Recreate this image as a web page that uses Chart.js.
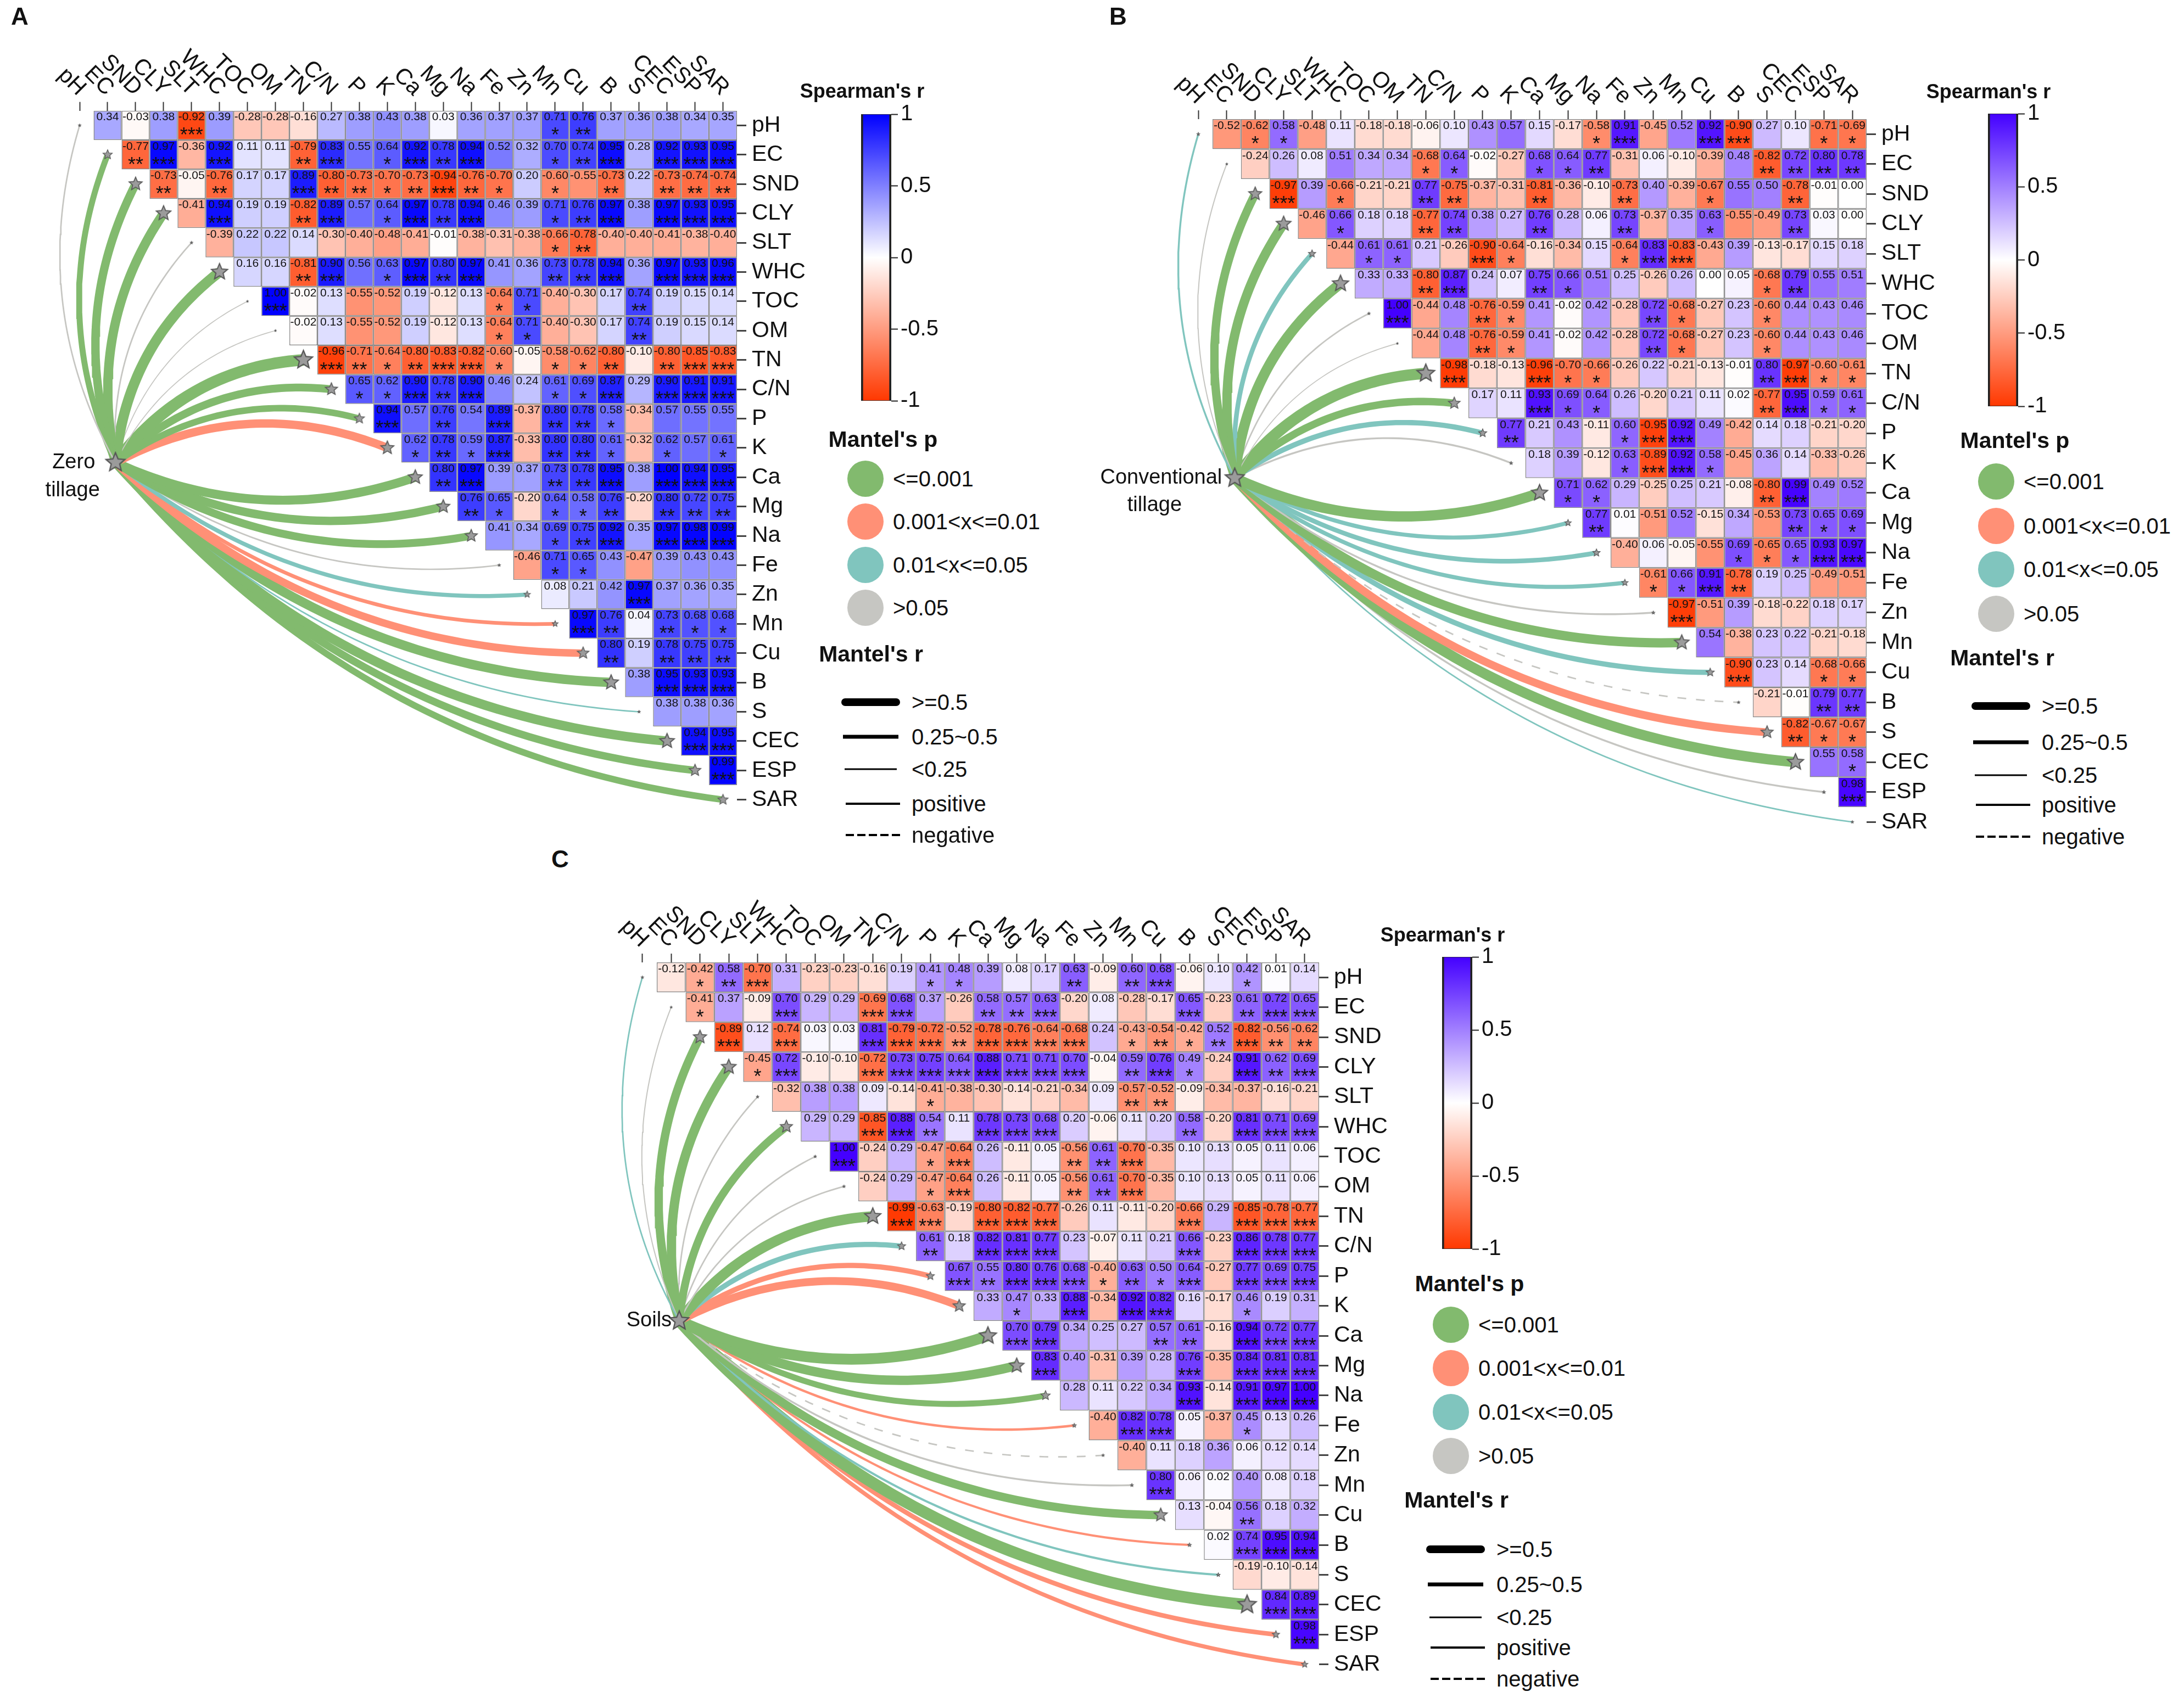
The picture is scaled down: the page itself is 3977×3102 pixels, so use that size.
<!DOCTYPE html>
<html>
<head>
<meta charset="utf-8">
<script src="https://cdn.jsdelivr.net/npm/chart.js@4"></script>
<style>
html, body { margin: 0; padding: 0; background: #fff; }
#page { position: relative; width: 3977px; height: 3102px; overflow: hidden; font-family: "Liberation Sans", Arial, sans-serif; color: #111; }
canvas { position: absolute; }
.txt { position: absolute; white-space: nowrap; line-height: 1; transform: translateY(-50%); }
.mid { transform: translate(-50%, -50%); }
.dot { position: absolute; width: 66px; height: 66px; border-radius: 50%; transform: translate(-50%, -50%); }
.bar { position: absolute; transform: translateY(-50%); background: #000; }
</style>
</head>
<body>
<div id="page"></div>
<script>
const variables = ['pH', 'EC', 'SND', 'CLY', 'SLT', 'WHC', 'TOC', 'OM', 'TN', 'C/N', 'P', 'K', 'Ca', 'Mg', 'Na', 'Fe', 'Zn', 'Mn', 'Cu', 'B', 'S', 'CEC', 'ESP', 'SAR'];
const pLabels = ['<=0.001', '0.001<x<=0.01', '0.01<x<=0.05', '>0.05'];
const rLabels = ['>=0.5', '0.25~0.5', '<0.25', 'positive', 'negative'];

// Zero tillage
const zeroValues = [
    [0.34, -0.03, 0.38, -0.92, 0.39, -0.28, -0.28, -0.16, 0.27, 0.38, 0.43, 0.38, 0.03, 0.36, 0.37, 0.37, 0.71, 0.76, 0.37, 0.36, 0.38, 0.34, 0.35],
    [-0.77, 0.97, -0.36, 0.92, 0.11, 0.11, -0.79, 0.83, 0.55, 0.64, 0.92, 0.78, 0.94, 0.52, 0.32, 0.70, 0.74, 0.95, 0.28, 0.92, 0.93, 0.95],
    [-0.73, -0.05, -0.76, 0.17, 0.17, 0.89, -0.80, -0.73, -0.70, -0.73, -0.94, -0.76, -0.70, 0.20, -0.60, -0.55, -0.73, 0.22, -0.73, -0.74, -0.74],
    [-0.41, 0.94, 0.19, 0.19, -0.82, 0.89, 0.57, 0.64, 0.97, 0.78, 0.94, 0.46, 0.39, 0.71, 0.76, 0.97, 0.38, 0.97, 0.93, 0.95],
    [-0.39, 0.22, 0.22, 0.14, -0.30, -0.40, -0.48, -0.41, -0.01, -0.38, -0.31, -0.38, -0.66, -0.78, -0.40, -0.40, -0.41, -0.38, -0.40],
    [0.16, 0.16, -0.81, 0.90, 0.56, 0.63, 0.97, 0.80, 0.97, 0.41, 0.36, 0.73, 0.78, 0.94, 0.36, 0.97, 0.93, 0.96],
    [1.00, -0.02, 0.13, -0.55, -0.52, 0.19, -0.12, 0.13, -0.64, 0.71, -0.40, -0.30, 0.17, 0.74, 0.19, 0.15, 0.14],
    [-0.02, 0.13, -0.55, -0.52, 0.19, -0.12, 0.13, -0.64, 0.71, -0.40, -0.30, 0.17, 0.74, 0.19, 0.15, 0.14],
    [-0.96, -0.71, -0.64, -0.80, -0.83, -0.82, -0.60, -0.05, -0.58, -0.62, -0.80, -0.10, -0.80, -0.85, -0.83],
    [0.65, 0.62, 0.90, 0.78, 0.90, 0.46, 0.24, 0.61, 0.69, 0.87, 0.29, 0.90, 0.91, 0.91],
    [0.94, 0.57, 0.76, 0.54, 0.89, -0.37, 0.80, 0.78, 0.58, -0.34, 0.57, 0.55, 0.55],
    [0.62, 0.78, 0.59, 0.87, -0.33, 0.80, 0.80, 0.61, -0.32, 0.62, 0.57, 0.61],
    [0.80, 0.97, 0.39, 0.37, 0.73, 0.78, 0.95, 0.38, 1.00, 0.94, 0.95],
    [0.76, 0.65, -0.20, 0.64, 0.58, 0.76, -0.20, 0.80, 0.72, 0.75],
    [0.41, 0.34, 0.69, 0.75, 0.92, 0.35, 0.97, 0.98, 0.99],
    [-0.46, 0.71, 0.65, 0.43, -0.47, 0.39, 0.43, 0.43],
    [0.08, 0.21, 0.42, 0.97, 0.37, 0.36, 0.35],
    [0.97, 0.76, 0.04, 0.73, 0.68, 0.68],
    [0.80, 0.19, 0.78, 0.75, 0.75],
    [0.38, 0.95, 0.93, 0.93],
    [0.38, 0.38, 0.36],
    [0.94, 0.95],
    [0.99]
];
const zeroStars = ['00030000000000001200000', '2303002301323001230333', '202003221232101020222', '03002301323001230333', '0000000000001200000', '002301323002230333', '30000000110002000', '0000000110002000', '321233101120233', '11323001130333', '3020302210000', '121302210101', '23002230333', '2101120222', '001230333', '01100000', '0003000', '320211', '20222', '0333', '000', '33', '3'];
const zeroMantelR = [0.08, 0.32, 0.45, 0.5, 0.08, 0.55, 0.05, 0.05, 0.62, 0.42, 0.35, 0.45, 0.48, 0.45, 0.42, 0.08, 0.22, 0.2, 0.4, 0.5, 0.08, 0.5, 0.4, 0.35];
const zeroMantelP = [3, 0, 0, 0, 3, 0, 3, 3, 0, 0, 0, 1, 0, 0, 0, 3, 2, 1, 1, 0, 2, 0, 0, 0];

// Conventional tillage
const convValues = [
    [-0.52, -0.62, 0.58, -0.48, 0.11, -0.18, -0.18, -0.06, 0.10, 0.43, 0.57, 0.15, -0.17, -0.58, 0.91, -0.45, 0.52, 0.92, -0.90, 0.27, 0.10, -0.71, -0.69],
    [-0.24, 0.26, 0.08, 0.51, 0.34, 0.34, -0.68, 0.64, -0.02, -0.27, 0.68, 0.64, 0.77, -0.31, 0.06, -0.10, -0.39, 0.48, -0.82, 0.72, 0.80, 0.78],
    [-0.97, 0.39, -0.66, -0.21, -0.21, 0.77, -0.75, -0.37, -0.31, -0.81, -0.36, -0.10, -0.73, 0.40, -0.39, -0.67, 0.55, 0.50, -0.78, -0.01, 0.00],
    [-0.46, 0.66, 0.18, 0.18, -0.77, 0.74, 0.38, 0.27, 0.76, 0.28, 0.06, 0.73, -0.37, 0.35, 0.63, -0.55, -0.49, 0.73, 0.03, 0.00],
    [-0.44, 0.61, 0.61, 0.21, -0.26, -0.90, -0.64, -0.16, -0.34, 0.15, -0.64, 0.83, -0.83, -0.43, 0.39, -0.13, -0.17, 0.15, 0.18],
    [0.33, 0.33, -0.80, 0.87, 0.24, 0.07, 0.75, 0.66, 0.51, 0.25, -0.26, 0.26, 0.00, 0.05, -0.68, 0.79, 0.55, 0.51],
    [1.00, -0.44, 0.48, -0.76, -0.59, 0.41, -0.02, 0.42, -0.28, 0.72, -0.68, -0.27, 0.23, -0.60, 0.44, 0.43, 0.46],
    [-0.44, 0.48, -0.76, -0.59, 0.41, -0.02, 0.42, -0.28, 0.72, -0.68, -0.27, 0.23, -0.60, 0.44, 0.43, 0.46],
    [-0.98, -0.18, -0.13, -0.96, -0.70, -0.66, -0.26, 0.22, -0.21, -0.13, -0.01, 0.80, -0.97, -0.60, -0.61],
    [0.17, 0.11, 0.93, 0.69, 0.64, 0.26, -0.20, 0.21, 0.11, 0.02, -0.77, 0.95, 0.59, 0.61],
    [0.77, 0.21, 0.43, -0.11, 0.60, -0.95, 0.92, 0.49, -0.42, 0.14, 0.18, -0.21, -0.20],
    [0.18, 0.39, -0.12, 0.63, -0.89, 0.92, 0.58, -0.45, 0.36, 0.14, -0.33, -0.26],
    [0.71, 0.62, 0.29, -0.25, 0.25, 0.21, -0.08, -0.80, 0.99, 0.49, 0.52],
    [0.77, 0.01, -0.51, 0.52, -0.15, 0.34, -0.53, 0.73, 0.65, 0.69],
    [-0.40, 0.06, -0.05, -0.55, 0.69, -0.65, 0.65, 0.93, 0.97],
    [-0.61, 0.66, 0.91, -0.78, 0.19, 0.25, -0.49, -0.51],
    [-0.97, -0.51, 0.39, -0.18, -0.22, 0.18, 0.17],
    [0.54, -0.38, 0.23, 0.22, -0.21, -0.18],
    [-0.90, 0.23, 0.14, -0.68, -0.66],
    [-0.21, -0.01, 0.79, 0.77],
    [-0.82, -0.67, -0.67],
    [0.55, 0.58],
    [0.98]
];
const convStars = ['01100000000001300330011', '0000001100112000002222', '301002200200200100200', '01002200200200100200', '0110031000133000000', '002300210000001200', '30021000021001000', '0021000021001000', '300311000002311', '00311000002311', '2000133000000', '000133100000', '11000002300', '2000000211', '000011133', '11320000', '3000000', '000000', '30011', '0022', '211', '01', '3'];
const convMantelR = [0.1, 0.06, 0.45, 0.5, 0.25, 0.55, 0.08, 0.05, 0.6, 0.4, 0.28, 0.1, 0.55, 0.22, 0.25, 0.22, 0.1, 0.5, 0.28, -0.08, 0.42, 0.55, 0.1, 0.08];
const convMantelP = [2, 3, 0, 0, 2, 0, 3, 3, 0, 0, 2, 3, 0, 2, 2, 2, 3, 0, 2, 3, 1, 0, 3, 2];

// Soils
const soilValues = [
    [-0.12, -0.42, 0.58, -0.70, 0.31, -0.23, -0.23, -0.16, 0.19, 0.41, 0.48, 0.39, 0.08, 0.17, 0.63, -0.09, 0.60, 0.68, -0.06, 0.10, 0.42, 0.01, 0.14],
    [-0.41, 0.37, -0.09, 0.70, 0.29, 0.29, -0.69, 0.68, 0.37, -0.26, 0.58, 0.57, 0.63, -0.20, 0.08, -0.28, -0.17, 0.65, -0.23, 0.61, 0.72, 0.65],
    [-0.89, 0.12, -0.74, 0.03, 0.03, 0.81, -0.79, -0.72, -0.52, -0.78, -0.76, -0.64, -0.68, 0.24, -0.43, -0.54, -0.42, 0.52, -0.82, -0.56, -0.62],
    [-0.45, 0.72, -0.10, -0.10, -0.72, 0.73, 0.75, 0.64, 0.88, 0.71, 0.71, 0.70, -0.04, 0.59, 0.76, 0.49, -0.24, 0.91, 0.62, 0.69],
    [-0.32, 0.38, 0.38, 0.09, -0.14, -0.41, -0.38, -0.30, -0.14, -0.21, -0.34, 0.09, -0.57, -0.52, -0.09, -0.34, -0.37, -0.16, -0.21],
    [0.29, 0.29, -0.85, 0.88, 0.54, 0.11, 0.78, 0.73, 0.68, 0.20, -0.06, 0.11, 0.20, 0.58, -0.20, 0.81, 0.71, 0.69],
    [1.00, -0.24, 0.29, -0.47, -0.64, 0.26, -0.11, 0.05, -0.56, 0.61, -0.70, -0.35, 0.10, 0.13, 0.05, 0.11, 0.06],
    [-0.24, 0.29, -0.47, -0.64, 0.26, -0.11, 0.05, -0.56, 0.61, -0.70, -0.35, 0.10, 0.13, 0.05, 0.11, 0.06],
    [-0.99, -0.63, -0.19, -0.80, -0.82, -0.77, -0.26, 0.11, -0.11, -0.20, -0.66, 0.29, -0.85, -0.78, -0.77],
    [0.61, 0.18, 0.82, 0.81, 0.77, 0.23, -0.07, 0.11, 0.21, 0.66, -0.23, 0.86, 0.78, 0.77],
    [0.67, 0.55, 0.80, 0.76, 0.68, -0.40, 0.63, 0.50, 0.64, -0.27, 0.77, 0.69, 0.75],
    [0.33, 0.47, 0.33, 0.88, -0.34, 0.92, 0.82, 0.16, -0.17, 0.46, 0.19, 0.31],
    [0.70, 0.79, 0.34, 0.25, 0.27, 0.57, 0.61, -0.16, 0.94, 0.72, 0.77],
    [0.83, 0.40, -0.31, 0.39, 0.28, 0.76, -0.35, 0.84, 0.81, 0.81],
    [0.28, 0.11, 0.22, 0.34, 0.93, -0.14, 0.91, 0.97, 1.00],
    [-0.40, 0.82, 0.78, 0.05, -0.37, 0.45, 0.13, 0.26],
    [-0.40, 0.11, 0.18, 0.36, 0.06, 0.12, 0.14],
    [0.80, 0.06, 0.02, 0.40, 0.08, 0.18],
    [0.13, -0.04, 0.56, 0.18, 0.32],
    [0.02, 0.74, 0.95, 0.94],
    [-0.19, -0.10, -0.14],
    [0.84, 0.89],
    [0.98]
];
const soilStars = ['01230000011000202300100', '1003003300223000030233', '303003332333301212322', '13003333333302310323', '0000010000002200000', '003320333000020333', '30013000223000000', '0013000223000000', '330333000030333', '20333000030333', '3233312130333', '010303300100', '33000220333', '3000030333', '000030333', '03300100', '0000000', '300000', '00200', '0333', '000', '33', '3'];
const soilMantelR = [0.08, 0.06, 0.45, 0.5, 0.08, 0.42, 0.08, 0.08, 0.55, 0.28, 0.28, 0.42, 0.58, 0.5, 0.32, 0.13, -0.08, 0.1, 0.45, 0.12, 0.12, 0.62, 0.25, 0.22];
const soilMantelP = [2, 3, 0, 0, 3, 0, 3, 3, 0, 2, 1, 1, 0, 0, 0, 1, 3, 3, 0, 1, 2, 0, 1, 1];

const pColors = ['rgb(130,186,110)', 'rgb(255,144,118)', 'rgb(128,197,190)', 'rgb(198,198,194)'];
const negColor = [255, 56, 0];
const fontName = '"Liberation Sans", Arial, sans-serif';
const page = document.getElementById('page');

function cellColor(v, posColor) {
    const c = v < 0 ? negColor : posColor;
    const t = Math.abs(v);
    return 'rgb(' + c.map(k => Math.round(255 + (k - 255) * t)).join(',') + ')';
}

function starImage(radius) {
    const cv = document.createElement('canvas');
    const size = Math.ceil(radius * 2 + 6);
    cv.width = size;
    cv.height = size;
    const g = cv.getContext('2d');
    g.translate(size / 2, size / 2);
    g.beginPath();
    for (let i = 0; i < 10; i++) {
        const a = -Math.PI / 2 + i * Math.PI / 5;
        const r = i % 2 ? radius * 0.45 : radius;
        g.lineTo(Math.cos(a) * r, Math.sin(a) * r);
    }
    g.closePath();
    g.fillStyle = '#9b9b9b';
    g.fill();
    g.lineWidth = Math.max(1.2, radius * 0.13);
    g.strokeStyle = '#555';
    g.stroke();
    return cv;
}

// curved link from the source node to a variable on the diagonal
function linkPoints(sx, sy, tx, ty) {
    const dx = tx - sx, dy = ty - sy;
    const side = ty < sy ? 1 : -1;
    const bend = ty < sy ? 0.22 : 0.19;
    const cx = (sx + tx) / 2 + side * dy * bend;
    const cy = (sy + ty) / 2 - side * dx * bend;
    const pts = [];
    for (let i = 0; i <= 48; i++) {
        const t = i / 48, u = 1 - t;
        pts.push({ x: u * u * sx + 2 * u * t * cx + t * t * tx, y: u * u * sy + 2 * u * t * cy + t * t * ty });
    }
    return pts;
}

function createPanel(cfg) {
    const cv = document.createElement('canvas');
    const width = cfg.right - cfg.left, height = cfg.bottom - cfg.top;
    cv.width = width;
    cv.height = height;
    cv.style.left = cfg.left + 'px';
    cv.style.top = cfg.top + 'px';
    cv.style.width = width + 'px';
    cv.style.height = height + 'px';
    page.appendChild(cv);

    const cw = (cfg.cellRight - cfg.cellLeft) / 23;
    const ch = (cfg.cellBottom - cfg.cellTop) / 23;
    const col0 = cfg.cellLeft - cw / 2;
    const source = { x: 1.28, y: 11.5 };

    const cells = [], colors = [];
    cfg.values.forEach((row, i) => {
        row.forEach((v, k) => {
            const j = i + 1 + k;
            cells.push({ x: [j - 0.5, j + 0.5], y: i, r: v, stars: Number(cfg.stars[i][k]) || 0 });
            colors.push(cellColor(v, cfg.posColor));
        });
    });

    const datasets = [{
        type: 'bar',
        indexAxis: 'y',
        data: cells,
        backgroundColor: colors,
        borderColor: '#858585',
        borderWidth: 1.5,
        borderSkipped: false,
        inflateAmount: 0,
        grouped: false,
        barPercentage: 1,
        categoryPercentage: 1,
        order: 3
    }];
    cfg.mantelR.forEach((r, i) => {
        datasets.push({
            type: 'scatter',
            showLine: true,
            data: linkPoints(source.x, source.y, i, i),
            borderColor: pColors[cfg.mantelP[i]],
            borderWidth: Math.abs(r) * 34,
            borderDash: r < 0 ? [16, 18] : [],
            pointRadius: 0,
            order: 2
        });
    });
    datasets.push({
        type: 'scatter',
        data: variables.map((v, i) => ({ x: i, y: i })),
        pointStyle: cfg.mantelR.map(r => starImage(Math.abs(r) * 28)),
        pointRadius: 5,
        order: 1
    });
    datasets.push({
        type: 'scatter',
        data: [source],
        pointStyle: starImage(18),
        pointRadius: 5,
        order: 0
    });

    const labelPlugin = {
        id: 'panelText',
        afterDatasetsDraw(chart) {
            const ctx = chart.ctx, xs = chart.scales.x, ys = chart.scales.y;
            ctx.save();
            ctx.fillStyle = '#111';
            ctx.textAlign = 'center';
            cells.forEach(c => {
                const px = xs.getPixelForValue((c.x[0] + c.x[1]) / 2);
                const py = ys.getPixelForValue(c.y);
                ctx.font = '21px ' + fontName;
                ctx.textBaseline = 'middle';
                ctx.fillText(c.r.toFixed(2), px, py - 15);
                if (c.stars) {
                    ctx.font = '36px ' + fontName;
                    ctx.textBaseline = 'alphabetic';
                    ctx.fillText('*'.repeat(c.stars), px, py + 30);
                }
            });
            // top axis labels, rotated so that they end at their tick
            ctx.font = '41px ' + fontName;
            ctx.textAlign = 'right';
            ctx.textBaseline = 'middle';
            variables.forEach((name, i) => {
                ctx.save();
                ctx.translate(xs.getPixelForValue(i) + 4, chart.chartArea.top - 34);
                ctx.rotate(Math.PI / 4);
                ctx.fillText(name, 0, 0);
                ctx.restore();
            });
            // source node name
            ctx.textAlign = 'center';
            ctx.font = '38px ' + fontName;
            const sx = xs.getPixelForValue(source.x), sy = ys.getPixelForValue(source.y);
            cfg.sourceLabel.forEach(l => ctx.fillText(l.text, sx + l.dx, sy + l.dy));
            ctx.restore();
        }
    };

    new Chart(cv, {
        type: 'bar',
        data: { datasets: datasets },
        plugins: [labelPlugin],
        options: {
            responsive: false,
            animation: false,
            devicePixelRatio: 1,
            events: [],
            layout: { autoPadding: false, padding: 0 },
            plugins: { legend: { display: false }, tooltip: { enabled: false } },
            scales: {
                x: {
                    type: 'linear',
                    position: 'top',
                    offset: false,
                    bounds: 'data',
                    min: (cfg.left - col0) / cw,
                    max: 23.5,
                    afterBuildTicks(scale) { scale.ticks = variables.map((v, i) => ({ value: i })); },
                    afterFit(scale) {
                        scale.height = cfg.cellTop - cfg.top;
                        scale.paddingLeft = scale.paddingRight = 0;
                    },
                    border: { display: false },
                    grid: { offset: false, drawOnChartArea: false, drawTicks: true, tickLength: 16, tickColor: '#333', tickWidth: 2 },
                    ticks: { display: false, autoSkip: false }
                },
                y: {
                    type: 'linear',
                    position: 'right',
                    reverse: true,
                    offset: false,
                    bounds: 'data',
                    min: -0.5,
                    max: 22.5 + (cfg.bottom - cfg.cellBottom) / ch,
                    afterBuildTicks(scale) { scale.ticks = variables.map((v, i) => ({ value: i })); },
                    afterFit(scale) {
                        scale.width = cfg.right - cfg.cellRight;
                        scale.paddingTop = scale.paddingBottom = 0;
                    },
                    border: { display: false },
                    grid: { offset: false, drawOnChartArea: false, drawTicks: true, tickLength: 17, tickColor: '#444', tickWidth: 3 },
                    ticks: {
                        autoSkip: false,
                        padding: 10,
                        color: '#111',
                        font: { size: 41, family: fontName },
                        callback: v => variables[v]
                    }
                }
            }
        }
    });
}

function createColorBar(cfg) {
    const cv = document.createElement('canvas');
    const margin = 30, width = 200, height = cfg.barBottom - cfg.barTop + margin * 2;
    cv.width = width;
    cv.height = height;
    cv.style.left = cfg.barLeft + 'px';
    cv.style.top = (cfg.barTop - margin) + 'px';
    cv.style.width = width + 'px';
    cv.style.height = height + 'px';
    page.appendChild(cv);
    new Chart(cv, {
        type: 'bar',
        data: {
            labels: ["Spearman's r"],
            datasets: [{
                data: [[-1, 1]],
                backgroundColor(ctx) {
                    const area = ctx.chart.chartArea;
                    if (!area) return '#fff';
                    const g = ctx.chart.ctx.createLinearGradient(0, area.top, 0, area.bottom);
                    g.addColorStop(0, cellColor(1, cfg.posColor));
                    g.addColorStop(0.5, '#fff');
                    g.addColorStop(1, cellColor(-1, cfg.posColor));
                    return g;
                },
                borderColor: '#222',
                borderWidth: { left: 4, right: 4, top: 1, bottom: 1 },
                borderSkipped: false,
                barPercentage: 1,
                categoryPercentage: 1
            }]
        },
        options: {
            responsive: false,
            animation: false,
            devicePixelRatio: 1,
            events: [],
            layout: { padding: { top: margin, bottom: margin } },
            plugins: { legend: { display: false }, tooltip: { enabled: false } },
            scales: {
                x: { display: false },
                y: {
                    position: 'right',
                    min: -1,
                    max: 1,
                    afterFit(scale) {
                        scale.width = width - cfg.barWidth;
                        scale.paddingTop = scale.paddingBottom = 0;
                    },
                    border: { display: false },
                    grid: { drawOnChartArea: false, drawTicks: true, tickLength: 12, tickColor: '#222', tickWidth: 2 },
                    ticks: { stepSize: 0.5, padding: 5, color: '#111', font: { size: 40, family: fontName }, callback: v => String(v) }
                }
            }
        }
    });
}

function addText(text, x, y, size, bold, center) {
    const d = document.createElement('div');
    d.className = center ? 'txt mid' : 'txt';
    d.textContent = text;
    d.style.left = x + 'px';
    d.style.top = y + 'px';
    d.style.fontSize = size + 'px';
    if (bold) d.style.fontWeight = 'bold';
    page.appendChild(d);
}

function createLegend(cfg) {
    addText("Spearman's r", cfg.titleX, cfg.titleY, 36, true, true);
    addText("Mantel's p", cfg.pTitleX, cfg.pTitleY, 41, true, true);
    pLabels.forEach((label, i) => {
        const dot = document.createElement('div');
        dot.className = 'dot';
        dot.style.left = cfg.dotX + 'px';
        dot.style.top = cfg.dotY[i] + 'px';
        dot.style.background = pColors[i];
        page.appendChild(dot);
        addText(label, cfg.dotX + 50, cfg.dotY[i], 40, false, false);
    });
    addText("Mantel's r", cfg.rTitleX, cfg.rTitleY, 41, true, true);
    const widths = [14, 7, 3, 4, 4];
    rLabels.forEach((label, i) => {
        const line = document.createElement('div');
        line.className = 'bar';
        line.style.left = (cfg.lineX + (i < 3 ? i * 3 : 8)) + 'px';
        line.style.width = (107 - (i < 3 ? i * 6 : 8)) + 'px';
        line.style.top = cfg.lineY[i] + 'px';
        line.style.height = widths[i] + 'px';
        if (i === 0) line.style.borderRadius = '7px';
        if (i === 4) line.style.background = 'repeating-linear-gradient(90deg,#000 0 15px,transparent 15px 21px)';
        page.appendChild(line);
        addText(label, cfg.lineX + 128, cfg.lineY[i], 40, false, false);
    });
}

createPanel({
    values: zeroValues, stars: zeroStars, mantelR: zeroMantelR, mantelP: zeroMantelP, posColor: [0, 0, 255],
    left: 0, top: 0, right: 1510, bottom: 1505,
    cellLeft: 170.5, cellRight: 1342, cellTop: 201.7, cellBottom: 1430,
    sourceLabel: [{ text: 'Zero', dx: -76, dy: 0 }, { text: 'tillage', dx: -78, dy: 51 }]
});
createPanel({
    values: convValues, stars: convStars, mantelR: convMantelR, mantelP: convMantelP, posColor: [68, 0, 255],
    left: 1990, top: 0, right: 3570, bottom: 1545,
    cellLeft: 2208, cellRight: 3399, cellTop: 217, cellBottom: 1470,
    sourceLabel: [{ text: 'Conventional', dx: -134, dy: 0 }, { text: 'tillage', dx: -146, dy: 50 }]
});
createPanel({
    values: soilValues, stars: soilStars, mantelR: soilMantelR, mantelP: soilMantelP, posColor: [68, 0, 255],
    left: 1100, top: 1540, right: 2575, bottom: 3080,
    cellLeft: 1196, cellRight: 2402, cellTop: 1753, cellBottom: 3004.5,
    sourceLabel: [{ text: 'Soils', dx: -55, dy: 0 }]
});

createColorBar({ barLeft: 1568, barWidth: 55, barTop: 208, barBottom: 730, posColor: [0, 0, 255] });
createColorBar({ barLeft: 3620, barWidth: 55, barTop: 207, barBottom: 740, posColor: [68, 0, 255] });
createColorBar({ barLeft: 2626, barWidth: 55, barTop: 1743, barBottom: 2275, posColor: [68, 0, 255] });

createLegend({ titleX: 1570, titleY: 166, pTitleX: 1608, pTitleY: 800, dotX: 1576, dotY: [872, 950, 1029, 1107], rTitleX: 1586, rTitleY: 1191, lineX: 1532, lineY: [1279, 1342, 1401, 1464, 1521] });
createLegend({ titleX: 3621, titleY: 167, pTitleX: 3669, pTitleY: 802, dotX: 3635, dotY: [877, 958, 1037, 1118], rTitleX: 3646, rTitleY: 1198, lineX: 3590, lineY: [1286, 1352, 1412, 1466, 1524] });
createLegend({ titleX: 2627, titleY: 1703, pTitleX: 2676, pTitleY: 2338, dotX: 2642, dotY: [2413, 2492, 2572, 2652], rTitleX: 2652, rTitleY: 2732, lineX: 2597, lineY: [2822, 2886, 2946, 3001, 3058] });

addText('A', 20, 30, 44, true, false);
addText('B', 2020, 30, 44, true, false);
addText('C', 1004, 1565, 44, true, false);
</script>
</body>
</html>
